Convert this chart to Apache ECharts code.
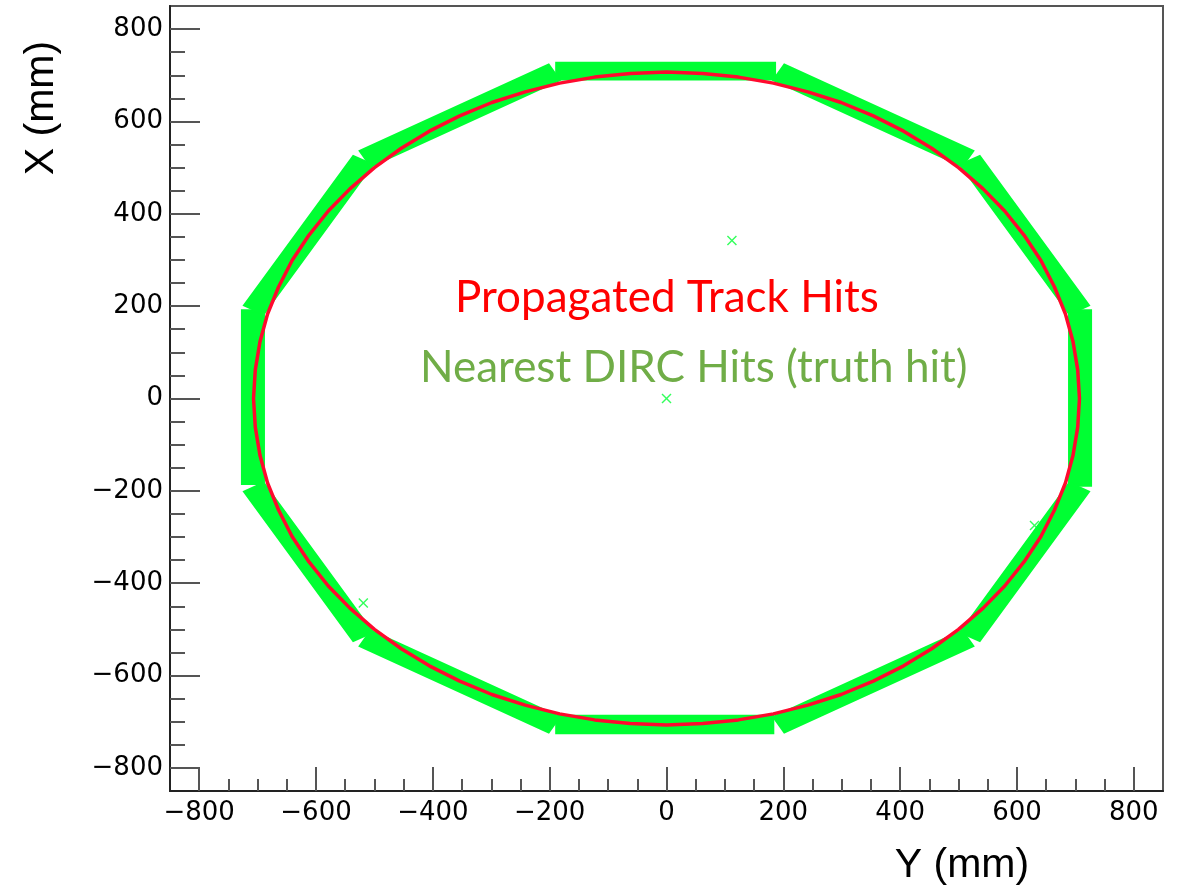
<!DOCTYPE html>
<html>
<head>
<meta charset="utf-8">
<script src="https://cdn.jsdelivr.net/npm/echarts@6/dist/echarts.min.js"></script>
<style>
  html, body { margin: 0; padding: 0; background: #ffffff; }
  #chart { width: 1184px; height: 894px; }
</style>
</head>
<body>
<div id="chart"></div>
<script>
// Axis ranges and tick labels (mm)
const axisMin = -850;
const axisMax = 850;
const majorTicks = [-800, -600, -400, -200, 0, 200, 400, 600, 800];
const minorTicks = [-750, -700, -650, -550, -500, -450, -350, -300, -250, -150, -100, -50,
                    50, 100, 150, 250, 300, 350, 450, 500, 550, 650, 700, 750];

// Propagated track hits, [Y, X] in mm, traced around the ring
const trackHits = [
  [707, 0], [704, 62], [696, 123], [683, 183], [664, 242], [641, 299], [612, 354],
  [579, 406], [542, 454], [500, 500], [454, 542], [406, 579], [354, 612], [299, 641],
  [242, 664], [183, 683], [123, 696], [62, 704], [0, 707],
  [-62, 704], [-123, 696], [-183, 683], [-242, 664], [-299, 641], [-354, 612],
  [-406, 579], [-454, 542], [-500, 500], [-542, 454], [-579, 406], [-612, 354],
  [-641, 299], [-664, 242], [-683, 183], [-696, 123], [-704, 62], [-707, 0],
  [-704, -62], [-696, -123], [-683, -183], [-664, -242], [-641, -299], [-612, -354],
  [-579, -406], [-542, -454], [-500, -500], [-454, -542], [-406, -579], [-354, -612],
  [-299, -641], [-242, -664], [-183, -683], [-123, -696], [-62, -704], [0, -707],
  [62, -704], [123, -696], [183, -683], [242, -664], [299, -641], [354, -612],
  [406, -579], [454, -542], [500, -500], [542, -454], [579, -406], [612, -354],
  [641, -299], [664, -242], [683, -183], [696, -123], [704, -62], [707, 0]
];

// Nearest DIRC hits: the twelve bar boxes, corners as [Y, X] in mm
const dircBars = [
  [[-188, 692], [185, 692], [185, 726], [-188, 726]],
  [[184, 690], [506, 504], [524, 536], [202, 722]],
  [[504, 506], [690, 184], [722, 202], [536, 524]],
  [[690, -188], [726, -188], [726, 190], [690, 190]],
  [[504, -506], [690, -184], [722, -202], [536, -524]],
  [[184, -690], [506, -504], [524, -536], [202, -722]],
  [[-188, -688], [182, -688], [182, -724], [-188, -724]],
  [[-184, -690], [-506, -504], [-524, -536], [-202, -722]],
  [[-504, -506], [-690, -184], [-722, -202], [-536, -524]],
  [[-690, -184], [-726, -184], [-726, 190], [-690, 190]],
  [[-504, 506], [-690, 184], [-722, 202], [-536, 524]],
  [[-184, 690], [-506, 504], [-524, 536], [-202, 722]]
];

// Isolated DIRC hits away from the bars
const strayHits = [[112, 342], [0, 0], [-519, -443], [630, -275]];

const trackColor = '#ff0a2e';
const dircColor = '#00ff33';
const crossSymbol = 'path://M0,1 L1,0 L5,4 L9,0 L10,1 L6,5 L10,9 L9,10 L5,6 L1,10 L0,9 L4,5 Z';
const minusFmt = v => String(v).replace('-', '\u2212');
const tickFont = { fontFamily: 'DejaVu Sans', fontSize: 26, color: '#000' };

const chart = echarts.init(document.getElementById('chart'), null, { renderer: 'canvas' });

chart.setOption({
  animation: false,
  backgroundColor: '#ffffff',
  grid: {
    left: 170, right: 21, top: 6, bottom: 103,
    show: true, borderColor: '#555', borderWidth: 2, backgroundColor: 'transparent'
  },
  xAxis: [
    {
      type: 'value', min: axisMin, max: axisMax, position: 'bottom',
      axisLine: { show: true, onZero: false, lineStyle: { color: '#222', width: 2 } },
      axisTick: { show: true, inside: true, length: 24, customValues: majorTicks,
                  lineStyle: { color: '#555', width: 2 } },
      axisLabel: Object.assign({ show: true, margin: 9, customValues: majorTicks, formatter: minusFmt }, tickFont),
      splitLine: { show: false }
    },
    {
      type: 'value', min: axisMin, max: axisMax, position: 'bottom',
      axisLine: { show: false, onZero: false },
      axisTick: { show: true, inside: true, length: 12, customValues: minorTicks,
                  lineStyle: { color: '#555', width: 2 } },
      axisLabel: { show: false },
      splitLine: { show: false }
    }
  ],
  yAxis: [
    {
      type: 'value', min: axisMin, max: axisMax, position: 'left',
      axisLine: { show: true, onZero: false, lineStyle: { color: '#222', width: 2 } },
      axisTick: { show: true, inside: true, length: 30, customValues: majorTicks,
                  lineStyle: { color: '#555', width: 2 } },
      axisLabel: Object.assign({ show: true, margin: 7, customValues: majorTicks, formatter: minusFmt }, tickFont),
      splitLine: { show: false }
    },
    {
      type: 'value', min: axisMin, max: axisMax, position: 'left',
      axisLine: { show: false, onZero: false },
      axisTick: { show: true, inside: true, length: 15, customValues: minorTicks,
                  lineStyle: { color: '#555', width: 2 } },
      axisLabel: { show: false },
      splitLine: { show: false }
    }
  ],
  series: [
    {
      name: 'Nearest DIRC Hits (truth hit)',
      type: 'custom',
      xAxisIndex: 0, yAxisIndex: 0,
      data: dircBars.map(c => c[0]),
      renderItem: (params, api) => {
        const pts = dircBars[params.dataIndex].map(p => api.coord(p));
        return {
          type: 'polygon',
          shape: { points: pts },
          style: { fill: dircColor, stroke: dircColor, lineWidth: 3, lineJoin: 'miter' }
        };
      },
      z: 2
    },
    {
      name: 'Stray DIRC hits',
      type: 'scatter',
      xAxisIndex: 0, yAxisIndex: 0,
      data: strayHits,
      symbol: crossSymbol,
      symbolSize: 10,
      itemStyle: { color: dircColor },
      z: 2
    },
    {
      name: 'Propagated Track Hits',
      type: 'line',
      xAxisIndex: 0, yAxisIndex: 0,
      data: trackHits,
      smooth: false,
      showSymbol: false,
      lineStyle: { color: trackColor, width: 3.5, join: 'round' },
      z: 3
    }
  ],
  graphic: [
    {
      type: 'text', x: 455, y: 298, z: 10,
      style: { text: 'Propagated Track Hits', fill: '#ff0000',
               font: '44px Lato', textAlign: 'left', textVerticalAlign: 'middle' }
    },
    {
      type: 'text', x: 420, y: 368, z: 10,
      style: { text: 'Nearest DIRC Hits (truth hit)', fill: '#70ad47',
               font: '44px Lato', textAlign: 'left', textVerticalAlign: 'middle' }
    },
    {
      type: 'text', x: 42, y: 108, rotation: Math.PI / 2, z: 10,
      style: { text: 'X (mm)', fill: '#000', font: '41px "Liberation Sans"',
               textAlign: 'center', textVerticalAlign: 'middle' }
    },
    {
      type: 'text', x: 962, y: 866, z: 10,
      style: { text: 'Y (mm)', fill: '#000', font: '41px "Liberation Sans"',
               textAlign: 'center', textVerticalAlign: 'middle' }
    }
  ]
});
</script>
</body>
</html>
